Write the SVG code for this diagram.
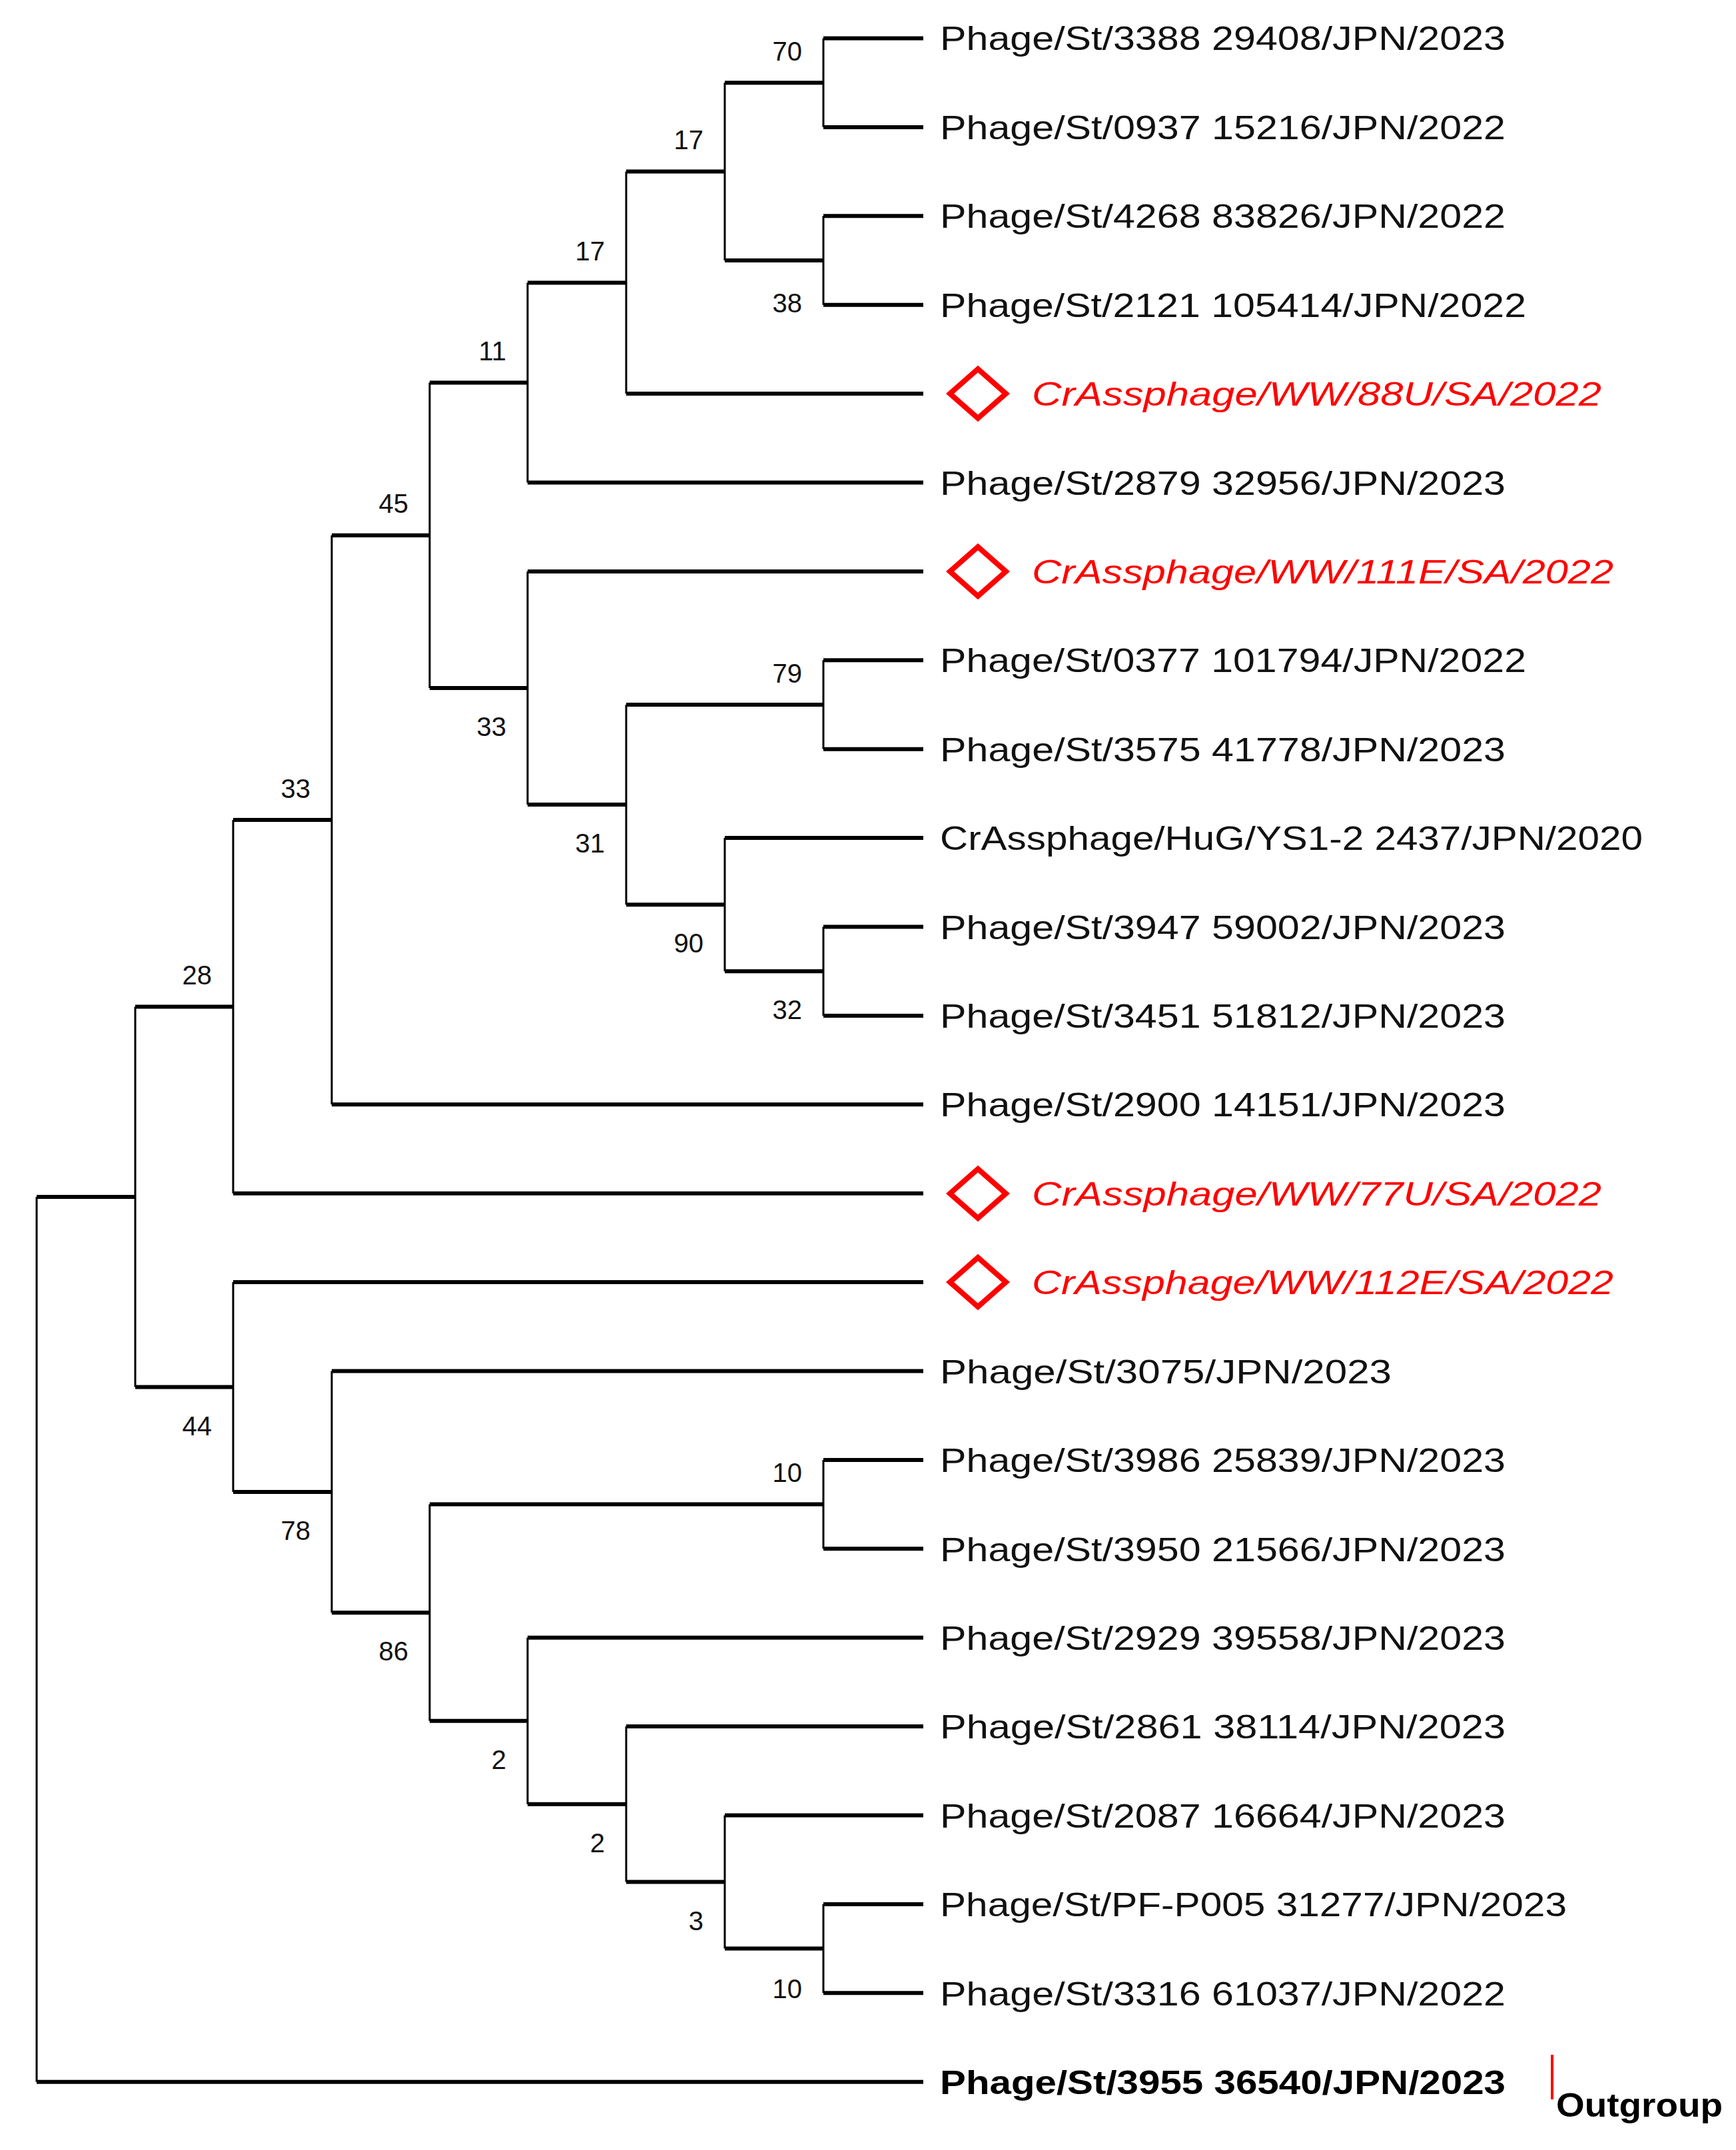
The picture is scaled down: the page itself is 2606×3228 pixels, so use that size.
<svg xmlns="http://www.w3.org/2000/svg" width="2606" height="3228" viewBox="0 0 2606 3228">
<style>
.h{stroke:#000;stroke-width:6;fill:none}
.v{stroke:#000;stroke-width:3;fill:none}
.t{font-family:"Liberation Sans",Arial,sans-serif;font-size:50px;fill:#111}
.r{font-family:"Liberation Sans",Arial,sans-serif;font-size:50px;fill:#f00;font-style:italic}
.b{font-family:"Liberation Sans",Arial,sans-serif;font-size:50px;fill:#000;font-weight:bold}
.n{font-family:"Liberation Sans",Arial,sans-serif;font-size:40px;fill:#111;text-anchor:end}
.d{fill:none;stroke:#f00;stroke-width:8}
</style>
<rect width="2606" height="3228" fill="#fff"/>
<g id="connectors">
<path class="v" d="M1236 57.5V190.9M1236 324.3V457.7M1088 124.2V391M940 257.6V591.1M792 424.4V724.5M1236 991.3V1124.7M1236 1391.5V1524.9M1088 1258.1V1458.2M940 1058V1358.2M792 857.9V1208.1M645 574.4V1033M498 803.7V1658.3M350 1231V1791.7M1236 2191.9V2325.3M1236 2858.9V2992.3M1088 2725.5V2925.6M940 2592.1V2825.6M792 2458.7V2708.8M645 2258.6V2583.8M498 2058.5V2421.2M350 1925.1V2239.9M203 1511.4V2082.5M55 1797V3125.7"/>
<path class="h" d="M1236 57.5H1386M1236 190.9H1386M1236 324.3H1386M1236 457.7H1386M940 591.1H1386M792 724.5H1386M792 857.9H1386M1236 991.3H1386M1236 1124.7H1386M1088 1258.1H1386M1236 1391.5H1386M1236 1524.9H1386M498 1658.3H1386M350 1791.7H1386M350 1925.1H1386M498 2058.5H1386M1236 2191.9H1386M1236 2325.3H1386M792 2458.7H1386M940 2592.1H1386M1088 2725.5H1386M1236 2858.9H1386M1236 2992.3H1386M55 3125.7H1386
M1088 124.2H1236M1088 391H1236M940 257.6H1088M792 424.4H940M645 574.4H792M940 1058H1236M1088 1458.2H1236M940 1358.2H1088M792 1208.1H940M645 1033H792M498 803.7H645M350 1231H498M203 1511.4H350M645 2258.6H1236M1088 2925.6H1236M940 2825.6H1088M792 2708.8H940M645 2583.8H792M498 2421.2H645M350 2239.9H498M203 2082.5H350M55 1797H203"/>
</g>
<g id="support">
<text class="n" x="1204" y="91">70</text>
<text class="n" x="1204" y="469">38</text>
<text class="n" x="1056" y="224">17</text>
<text class="n" x="908" y="391">17</text>
<text class="n" x="760" y="541">11</text>
<text class="n" x="1204" y="1025">79</text>
<text class="n" x="1204" y="1530">32</text>
<text class="n" x="1056" y="1430">90</text>
<text class="n" x="908" y="1280">31</text>
<text class="n" x="760" y="1105">33</text>
<text class="n" x="613" y="770">45</text>
<text class="n" x="466" y="1198">33</text>
<text class="n" x="318" y="1478">28</text>
<text class="n" x="1204" y="2225">10</text>
<text class="n" x="1204" y="3000">10</text>
<text class="n" x="1056" y="2898">3</text>
<text class="n" x="908" y="2781">2</text>
<text class="n" x="760" y="2656">2</text>
<text class="n" x="613" y="2493">86</text>
<text class="n" x="466" y="2312">78</text>
<text class="n" x="318" y="2155">44</text>
</g>
<g id="leaves">
<text class="t" x="1411" y="75" textLength="849" lengthAdjust="spacingAndGlyphs">Phage/St/3388 29408/JPN/2023</text>
<text class="t" x="1411" y="209" textLength="849" lengthAdjust="spacingAndGlyphs">Phage/St/0937 15216/JPN/2022</text>
<text class="t" x="1411" y="342" textLength="849" lengthAdjust="spacingAndGlyphs">Phage/St/4268 83826/JPN/2022</text>
<text class="t" x="1411" y="476" textLength="880" lengthAdjust="spacingAndGlyphs">Phage/St/2121 105414/JPN/2022</text>
<g id="n88U"><path class="d" d="M1468 554L1510 591L1468 628L1426 591Z"/><text class="r" x="1549" y="609" textLength="855" lengthAdjust="spacingAndGlyphs">CrAssphage/WW/88U/SA/2022</text></g>
<text class="t" x="1411" y="743" textLength="849" lengthAdjust="spacingAndGlyphs">Phage/St/2879 32956/JPN/2023</text>
<g id="n111E"><path class="d" d="M1468 821L1510 858L1468 895L1426 858Z"/><text class="r" x="1549" y="876" textLength="873" lengthAdjust="spacingAndGlyphs">CrAssphage/WW/111E/SA/2022</text></g>
<text class="t" x="1411" y="1009" textLength="880" lengthAdjust="spacingAndGlyphs">Phage/St/0377 101794/JPN/2022</text>
<text class="t" x="1411" y="1143" textLength="849" lengthAdjust="spacingAndGlyphs">Phage/St/3575 41778/JPN/2023</text>
<text class="t" x="1411" y="1276" textLength="1055" lengthAdjust="spacingAndGlyphs">CrAssphage/HuG/YS1-2 2437/JPN/2020</text>
<text class="t" x="1411" y="1410" textLength="849" lengthAdjust="spacingAndGlyphs">Phage/St/3947 59002/JPN/2023</text>
<text class="t" x="1411" y="1543" textLength="849" lengthAdjust="spacingAndGlyphs">Phage/St/3451 51812/JPN/2023</text>
<text class="t" x="1411" y="1676" textLength="849" lengthAdjust="spacingAndGlyphs">Phage/St/2900 14151/JPN/2023</text>
<g id="n77U"><path class="d" d="M1468 1755L1510 1792L1468 1829L1426 1792Z"/><text class="r" x="1549" y="1810" textLength="855" lengthAdjust="spacingAndGlyphs">CrAssphage/WW/77U/SA/2022</text></g>
<g id="n112E"><path class="d" d="M1468 1888L1510 1925L1468 1962L1426 1925Z"/><text class="r" x="1549" y="1943" textLength="873" lengthAdjust="spacingAndGlyphs">CrAssphage/WW/112E/SA/2022</text></g>
<text class="t" x="1411" y="2077" textLength="678" lengthAdjust="spacingAndGlyphs">Phage/St/3075/JPN/2023</text>
<text class="t" x="1411" y="2210" textLength="849" lengthAdjust="spacingAndGlyphs">Phage/St/3986 25839/JPN/2023</text>
<text class="t" x="1411" y="2344" textLength="849" lengthAdjust="spacingAndGlyphs">Phage/St/3950 21566/JPN/2023</text>
<text class="t" x="1411" y="2477" textLength="849" lengthAdjust="spacingAndGlyphs">Phage/St/2929 39558/JPN/2023</text>
<text class="t" x="1411" y="2610" textLength="849" lengthAdjust="spacingAndGlyphs">Phage/St/2861 38114/JPN/2023</text>
<text class="t" x="1411" y="2744" textLength="849" lengthAdjust="spacingAndGlyphs">Phage/St/2087 16664/JPN/2023</text>
<text class="t" x="1411" y="2877" textLength="941" lengthAdjust="spacingAndGlyphs">Phage/St/PF-P005 31277/JPN/2023</text>
<text class="t" x="1411" y="3011" textLength="849" lengthAdjust="spacingAndGlyphs">Phage/St/3316 61037/JPN/2022</text>
<text class="b" x="1411" y="3144" textLength="849" lengthAdjust="spacingAndGlyphs">Phage/St/3955 36540/JPN/2023</text>
</g>
<g id="outgroup">
<line x1="2330" y1="3085" x2="2330" y2="3152" stroke="#f00" stroke-width="4"/>
<text class="b" x="2336" y="3178" textLength="250" lengthAdjust="spacingAndGlyphs">Outgroup</text>
</g>
</svg>
